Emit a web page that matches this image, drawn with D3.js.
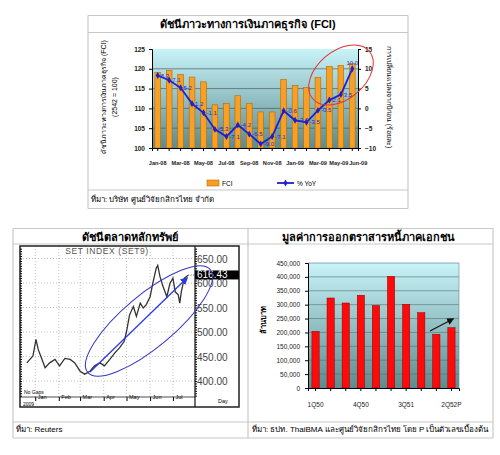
<!DOCTYPE html>
<html>
<head>
<meta charset="utf-8">
<script src="https://cdn.jsdelivr.net/npm/d3@7"></script>
<style>
body { margin: 0; background: #fff; }
text { font-family: Arial, "Liberation Sans", "Noto Sans", sans-serif; }
</style>
</head>
<body>
<script>
/* three charts on one page: FCI, SET index, corporate bond issues */

// FCI chart data
var fciMonths = ["Jan-08","Feb-08","Mar-08","Apr-08","May-08","Jun-08","Jul-08","Aug-08","Sep-08",
                 "Oct-08","Nov-08","Dec-08","Jan-09","Feb-09","Mar-09","Apr-09","May-09","Jun-09"];
var fciValues = [119.1, 119.6, 118.6, 117.9, 116.7, 110.9, 111.2, 113.2, 111.2,
                 109.1, 109.1, 117.3, 115.8, 115.3, 117.8, 120.6, 120.8, 121.3];
var yoyValues = [8.3, 7.1, 5.2, 1.2, -1.1, -5.3, -7.1, -4.2, -6.5,
                 -9.0, -7.1, -0.6, -3.0, -3.5, -0.5, 2.1, 3.5, 10.0];
var fciShownLabels = ["Jan-08","Mar-08","May-08","Jul-08","Sep-08","Nov-08","Jan-09","Mar-09","May-09","Jun-09"];
var fciLeftTicks = [100, 105, 110, 115, 120, 125];
var fciRightTicks = [-10, -5, 0, 5, 10, 15];

// SET index
var setDates = ["2008-12-21","2008-12-25","2008-12-29","2009-01-02","2009-01-05","2009-01-09","2009-01-14",
  "2009-01-20","2009-01-27","2009-02-02","2009-02-09","2009-02-16","2009-02-22","2009-03-01","2009-03-07",
  "2009-03-14","2009-03-20","2009-03-27","2009-04-02","2009-04-09","2009-04-16","2009-04-22","2009-04-28",
  "2009-05-01","2009-05-05","2009-05-10","2009-05-14","2009-05-19","2009-05-23","2009-05-27","2009-06-01",
  "2009-06-05","2009-06-09","2009-06-11","2009-06-14","2009-06-18","2009-06-23","2009-06-27","2009-07-01",
  "2009-07-04","2009-07-08","2009-07-10","2009-07-12","2009-07-14","2009-07-16","2009-07-21"];
var setValues = [437, 444, 451, 485, 464, 448, 427,
  437, 444, 431, 446, 444, 437, 420, 414,
  420, 431, 437, 431, 444, 458, 468, 481,
  501, 535, 552, 532, 559, 549, 556, 572,
  603, 630, 636, 613, 593, 572, 599, 610,
  582, 576, 559, 582, 596, 610, 616];
var setTicks = [400, 450, 500, 550, 600, 650];
var setLast = 616.43;

// bond issue data (million baht)
var bondQuarters = ["1Q50","2Q50","3Q50","4Q50","1Q51","2Q51","3Q51","4Q51","1Q52","2Q52P"];
var bondValues = [204000, 324000, 306000, 334000, 297000, 402000, 301000, 271000, 193000, 217000];
var bondShownLabels = ["1Q50","4Q50","3Q51","2Q52P"];
var bondTicks = [0, 50000, 100000, 150000, 200000, 250000, 300000, 350000, 400000, 450000];

var svg = d3.select("body").append("svg")
  .attr("width", 500)
  .attr("height", 455);

var defs = svg.append("defs");
var grad = defs.append("linearGradient").attr("id", "bg").attr("x1", 0).attr("x2", 0).attr("y1", 0).attr("y2", 1);
grad.append("stop").attr("offset", "0%").attr("stop-color", "#c8f4f9");
grad.append("stop").attr("offset", "100%").attr("stop-color", "#5d8b8e");

function arrowMarker(id, color) {
  defs.append("marker").attr("id", id)
    .attr("viewBox", "0 0 10 10").attr("refX", 8).attr("refY", 5)
    .attr("markerWidth", 6).attr("markerHeight", 6).attr("orient", "auto")
    .append("path").attr("d", "M0,0L10,5L0,10z").attr("fill", color);
}
arrowMarker("blueArrow", "#2a3be0");
arrowMarker("blackArrow", "#111");

// frame lines of the boxes
function hline(x1, x2, y) {
  svg.append("line").attr("x1", x1).attr("x2", x2).attr("y1", y).attr("y2", y)
    .attr("stroke", "#c8c8c8").attr("stroke-width", 1.2);
}
function vline(x, y1, y2) {
  svg.append("line").attr("x1", x).attr("x2", x).attr("y1", y1).attr("y2", y2)
    .attr("stroke", "#c8c8c8").attr("stroke-width", 1.2);
}

/* ---------- top: FCI ---------- */
hline(88, 408, 15.5); hline(88, 408, 32.5); hline(88, 408, 190); hline(88, 408, 208.5);
vline(88, 15.5, 208.5); vline(408, 15.5, 208.5);

svg.append("text").attr("x", 248).attr("y", 28).attr("text-anchor", "middle")
  .style("font-size", "11px").style("font-weight", "bold")
  .text("ดัชนีภาวะทางการเงินภาคธุรกิจ (FCI)");

var xTop = d3.scaleBand().domain(fciMonths).range([152, 358]).paddingInner(0.5).paddingOuter(0.25);
var yLeft = d3.scaleLinear().domain([100, 125]).range([148, 49]);
var yRight = d3.scaleLinear().domain([-10, 15]).range([148, 49]);

svg.append("rect").attr("x", 152).attr("y", 49).attr("width", 206).attr("height", 99).attr("fill", "url(#bg)");

svg.append("g").selectAll("line").data(fciLeftTicks.slice(1, -1)).join("line")
  .attr("x1", 152).attr("x2", 358)
  .attr("y1", function(d) { return yLeft(d); }).attr("y2", function(d) { return yLeft(d); })
  .attr("stroke", "#4a5f60").attr("stroke-width", 0.7);

svg.append("g").selectAll("rect").data(fciValues).join("rect")
  .attr("x", function(d, i) { return xTop(fciMonths[i]); })
  .attr("y", function(d) { return yLeft(d); })
  .attr("width", xTop.bandwidth())
  .attr("height", function(d) { return 148 - yLeft(d); })
  .attr("fill", "#f7a025").attr("stroke", "#b86a00").attr("stroke-width", 0.6);

var gl = svg.append("g").attr("transform", "translate(152,0)")
  .call(d3.axisLeft(yLeft).tickValues(fciLeftTicks).tickSize(3).tickPadding(4));
var gr = svg.append("g").attr("transform", "translate(358,0)")
  .call(d3.axisRight(yRight).tickValues(fciRightTicks).tickSize(3).tickPadding(4));
var gb = svg.append("g").attr("transform", "translate(0,148)")
  .call(d3.axisBottom(xTop).tickSize(3).tickPadding(10)
    .tickFormat(function(d) { return fciShownLabels.indexOf(d) >= 0 ? d : ""; }));
[gl, gr].forEach(function(g) {
  g.selectAll("text").style("font-size", "6.5px").style("font-weight", "bold").attr("fill", "#222");
});
gb.selectAll("text").style("font-size", "5.6px").style("font-weight", "bold").attr("fill", "#222")
  .attr("dx", function(d) { return d == "Jun-09" ? 6 : (d == "May-09" ? -2 : 0); });

var yoyLine = d3.line()
  .x(function(d, i) { return xTop(fciMonths[i]) + xTop.bandwidth() / 2; })
  .y(function(d) { return yRight(d); });
svg.append("path").datum(yoyValues).attr("d", yoyLine)
  .attr("fill", "none").attr("stroke", "#1a22d0").attr("stroke-width", 1.8);
svg.append("g").selectAll("path").data(yoyValues).join("path")
  .attr("d", d3.symbol(d3.symbolDiamond, 14))
  .attr("transform", function(d, i) {
    return "translate(" + (xTop(fciMonths[i]) + xTop.bandwidth() / 2) + "," + yRight(d) + ")";
  })
  .attr("fill", "#1a22d0");
var lastIdx = yoyValues.length - 1;
svg.append("g").selectAll("text").data(yoyValues).join("text")
  .attr("x", function(d, i) { return xTop(fciMonths[i]) + xTop.bandwidth() / 2 + (i == lastIdx ? 0 : 3); })
  .attr("y", function(d, i) { return yRight(d) + (i == lastIdx ? -4 : 2); })
  .attr("text-anchor", function(d, i) { return i == lastIdx ? "middle" : "start"; })
  .style("font-size", "6px").attr("fill", "#2a2acc")
  .text(function(d) { return d.toFixed(1); });

// axis titles
svg.append("text").attr("transform", "translate(106,97) rotate(-90)").attr("text-anchor", "middle")
  .style("font-size", "7px").text("ดัชนีภาวะทางการเงินภาคธุรกิจ (FCI)");
svg.append("text").attr("transform", "translate(117,97) rotate(-90)").attr("text-anchor", "middle")
  .style("font-size", "7px").text("(2542 = 100)");
svg.append("text").attr("transform", "translate(387,97) rotate(90)").attr("text-anchor", "middle")
  .style("font-size", "7px").text("การเปลี่ยนแปลงจากปีก่อน (ร้อยละ)");

// red ellipse
svg.append("ellipse").attr("cx", 341).attr("cy", 75).attr("rx", 37).attr("ry", 24)
  .attr("transform", "rotate(-40,341,75)")
  .attr("fill", "none").attr("stroke", "#e03030").attr("stroke-width", 1);

// legend
svg.append("rect").attr("x", 207).attr("y", 180).attr("width", 12).attr("height", 6)
  .attr("fill", "#f7a025").attr("stroke", "#b86a00").attr("stroke-width", 0.6);
svg.append("text").attr("x", 222).attr("y", 185.5).style("font-size", "6.5px").text("FCI");
svg.append("line").attr("x1", 277).attr("x2", 294).attr("y1", 183).attr("y2", 183)
  .attr("stroke", "#1a22d0").attr("stroke-width", 1.8);
svg.append("path").attr("d", d3.symbol(d3.symbolDiamond, 14)).attr("transform", "translate(285.5,183)")
  .attr("fill", "#1a22d0");
svg.append("text").attr("x", 297).attr("y", 185.5).style("font-size", "6.5px").text("% YoY");

svg.append("text").attr("x", 91).attr("y", 202).style("font-size", "8px")
  .text("ที่มา: บริษัท ศูนย์วิจัยกสิกรไทย จำกัด");

/* ---------- bottom table frame ---------- */
hline(13, 493, 228.5); hline(13, 493, 244); hline(13, 493, 422); hline(13, 493, 438);
vline(13, 228.5, 438); vline(248, 228.5, 438); vline(493, 228.5, 438);

/* ---------- bottom left: SET index ---------- */
svg.append("text").attr("x", 130).attr("y", 240.5).attr("text-anchor", "middle")
  .style("font-size", "11px").style("font-weight", "bold").text("ดัชนีตลาดหลักทรัพย์");

var parseDay = d3.timeParse("%Y-%m-%d");
var setSeries = setDates.map(function(d, i) { return { date: parseDay(d), value: setValues[i] }; });
var xSet = d3.scaleTime().domain([new Date(2008, 11, 12), new Date(2009, 6, 30)]).range([20, 195]);
var ySet = d3.scaleLinear().domain([400, 650]).range([381, 258.5]);
var monthTicks = xSet.ticks(d3.timeMonth.every(1)).filter(function(d) { return d.getFullYear() == 2009; });

// dotted grid
svg.append("g").selectAll("line").data(setTicks).join("line")
  .attr("x1", 20).attr("x2", 195)
  .attr("y1", function(d) { return ySet(d); }).attr("y2", function(d) { return ySet(d); })
  .attr("stroke", "#999").attr("stroke-width", 0.6).attr("stroke-dasharray", "1,2");
svg.append("g").selectAll("line").data(monthTicks).join("line")
  .attr("x1", function(d) { return xSet(d); }).attr("x2", function(d) { return xSet(d); })
  .attr("y1", 246).attr("y2", 397)
  .attr("stroke", "#999").attr("stroke-width", 0.6).attr("stroke-dasharray", "1,2");

svg.append("text").attr("x", 107).attr("y", 253.5).attr("text-anchor", "middle")
  .style("font-size", "8.5px").attr("fill", "#555").style("letter-spacing", "0.6px")
  .text("SET INDEX (SET9)");

// minor ticks both sides
var minorTicks = d3.range(370, 681, 5).filter(function(d) { return ySet(d) > 247 && ySet(d) < 396; });
var gSetL = svg.append("g").attr("transform", "translate(20,0)")
  .call(d3.axisRight(ySet).tickValues(minorTicks).tickSize(2).tickFormat(""));
var gSetR = svg.append("g").attr("transform", "translate(195,0)")
  .call(d3.axisRight(ySet).tickValues(minorTicks).tickSize(2).tickFormat(""));
gSetL.select(".domain").remove();
gSetR.select(".domain").remove();

svg.append("g").selectAll("text").data(setTicks).join("text")
  .attr("x", 197).attr("y", function(d) { return ySet(d) + 4; })
  .style("font-size", "10px").attr("fill", "#444")
  .text(function(d) { return d.toFixed(2); });

var setLine = d3.line()
  .x(function(d) { return xSet(d.date); })
  .y(function(d) { return ySet(d.value); });
svg.append("path").datum(setSeries).attr("d", setLine)
  .attr("fill", "none").attr("stroke", "#333").attr("stroke-width", 1.3);

// last value tag
var lastPt = setSeries[setSeries.length - 1];
svg.append("line").attr("x1", xSet(lastPt.date)).attr("x2", 195)
  .attr("y1", ySet(lastPt.value)).attr("y2", ySet(setLast))
  .attr("stroke", "#222").attr("stroke-width", 0.8).attr("stroke-dasharray", "1,1.5");
svg.append("rect").attr("x", 195).attr("y", ySet(setLast) - 4.5).attr("width", 44).attr("height", 9).attr("fill", "#000");
svg.append("text").attr("x", 197).attr("y", ySet(setLast) + 3.5)
  .style("font-size", "10px").attr("fill", "#fff").text(setLast.toFixed(2));

// date strip
var gDate = svg.append("g").attr("transform", "translate(0,397)")
  .call(d3.axisBottom(xSet).tickValues(monthTicks).tickSize(4).tickPadding(-3)
    .tickFormat(d3.timeFormat("%b")));
gDate.select(".domain").remove();
gDate.selectAll("text").attr("text-anchor", "start").attr("dx", 2).attr("dy", 1).style("font-size", "5.5px");
svg.append("line").attr("x1", 20).attr("x2", 195).attr("y1", 397).attr("y2", 397).attr("stroke", "#222").attr("stroke-width", 0.8);
svg.append("text").attr("x", 23).attr("y", 406).style("font-size", "5px").text("2009");
svg.append("text").attr("x", 24).attr("y", 394).style("font-size", "5px").text("No Gaps");
svg.append("text").attr("x", 218).attr("y", 403).style("font-size", "5.5px").text("Day");

// chart frame
svg.append("rect").attr("x", 20).attr("y", 246).attr("width", 219).attr("height", 161)
  .attr("fill", "none").attr("stroke", "#111").attr("stroke-width", 1.4);
svg.append("line").attr("x1", 195).attr("x2", 195).attr("y1", 246).attr("y2", 407)
  .attr("stroke", "#111").attr("stroke-width", 1.2);

// trend ellipse and arrow
svg.append("ellipse").attr("cx", 149).attr("cy", 321).attr("rx", 80).attr("ry", 26)
  .attr("transform", "rotate(-40,149,321)")
  .attr("fill", "none").attr("stroke", "#3535c8").attr("stroke-width", 1);
svg.append("line").attr("x1", 90).attr("y1", 372).attr("x2", 187).attr("y2", 278)
  .attr("stroke", "#2a3be0").attr("stroke-width", 1.3).attr("marker-end", "url(#blueArrow)");

svg.append("text").attr("x", 16).attr("y", 432).style("font-size", "8px").text("ที่มา: Reuters");

/* ---------- bottom right: bond issues ---------- */
svg.append("text").attr("x", 368).attr("y", 240.5).attr("text-anchor", "middle")
  .style("font-size", "11px").style("font-weight", "bold").text("มูลค่าการออกตราสารหนี้ภาคเอกชน");

var xBond = d3.scaleBand().domain(bondQuarters).range([308, 459]).paddingInner(0.52).paddingOuter(0.26);
var yBond = d3.scaleLinear().domain([0, 450000]).range([388, 263]);

svg.append("rect").attr("x", 308).attr("y", 263).attr("width", 151).attr("height", 125).attr("fill", "url(#bg)");
svg.append("g").selectAll("line").data(bondTicks.slice(1)).join("line")
  .attr("x1", 308).attr("x2", 459)
  .attr("y1", function(d) { return yBond(d); }).attr("y2", function(d) { return yBond(d); })
  .attr("stroke", "#55706f").attr("stroke-width", 0.6);

svg.append("g").selectAll("rect").data(bondValues).join("rect")
  .attr("x", function(d, i) { return xBond(bondQuarters[i]); })
  .attr("y", function(d) { return yBond(d); })
  .attr("width", xBond.bandwidth())
  .attr("height", function(d) { return 388 - yBond(d); })
  .attr("fill", "#ff0a0a").attr("stroke", "#8a0000").attr("stroke-width", 0.5);

var gbl = svg.append("g").attr("transform", "translate(308,0)")
  .call(d3.axisLeft(yBond).tickValues(bondTicks).tickSize(3).tickPadding(5).tickFormat(d3.format(",")));
var gbb = svg.append("g").attr("transform", "translate(0,388)")
  .call(d3.axisBottom(xBond).tickSize(3).tickPadding(11)
    .tickFormat(function(d) { return bondShownLabels.indexOf(d) >= 0 ? d : ""; }));
[gbl, gbb].forEach(function(g) {
  g.selectAll("text").style("font-size", "6.5px").attr("fill", "#222");
});
svg.append("line").attr("x1", 459).attr("x2", 459).attr("y1", 263).attr("y2", 388)
  .attr("stroke", "#6a8a8b").attr("stroke-width", 0.6);

svg.append("text").attr("transform", "translate(266,320) rotate(-90)").attr("text-anchor", "middle")
  .style("font-size", "7.5px").style("font-weight", "bold").text("ล้านบาท");

svg.append("line").attr("x1", 430).attr("y1", 331).attr("x2", 453).attr("y2", 319)
  .attr("stroke", "#111").attr("stroke-width", 1.2).attr("marker-end", "url(#blackArrow)");

svg.append("text").attr("x", 252).attr("y", 432).style("font-size", "8px")
  .text("ที่มา: ธปท. ThaiBMA และศูนย์วิจัยกสิกรไทย โดย P เป็นตัวเลขเบื้องต้น");
</script>
</body>
</html>
